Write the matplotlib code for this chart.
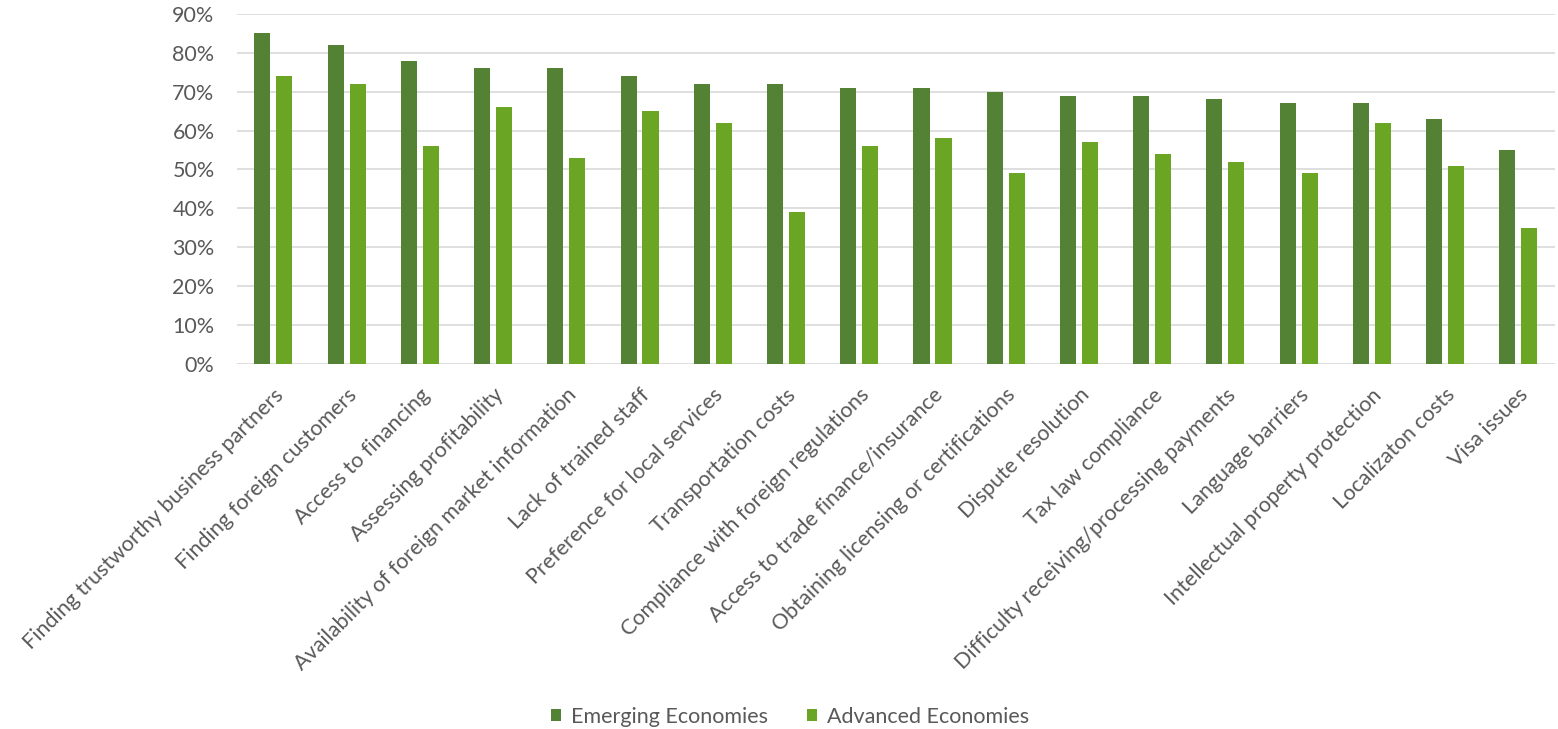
import matplotlib
matplotlib.use("Agg")
import matplotlib.pyplot as plt
import numpy as np
from matplotlib.ticker import FuncFormatter, MultipleLocator

categories = [
    "Finding trustworthy business partners",
    "Finding foreign customers",
    "Access to financing",
    "Assessing profitability",
    "Availability of foreign market information",
    "Lack of trained staff",
    "Preference for local services",
    "Transportation costs",
    "Compliance with foreign regulations",
    "Access to trade finance/insurance",
    "Obtaining licensing or certifications",
    "Dispute resolution",
    "Tax law compliance",
    "Difficulty receiving/processing payments",
    "Language barriers",
    "Intellectual property protection",
    "Localizaton costs",
    "Visa issues",
]
emerging = [85, 82, 78, 76, 76, 74, 72, 72, 71, 71, 70, 69, 69, 68, 67, 67, 63, 55]
advanced = [74, 72, 56, 66, 53, 65, 62, 39, 56, 58, 49, 57, 54, 52, 49, 62, 51, 35]
series_names = ["Emerging Economies", "Advanced Economies"]

plt.rcParams['font.family'] = ['Lato', 'DejaVu Sans']
text_color = "#595959"

fig = plt.figure(figsize=(15.58, 7.29), dpi=100)
ax = fig.add_axes([0.152, 0.5007, 0.846, 0.4803])

x = np.arange(len(categories))
w = 0.22
ax.bar(x - 0.15, emerging, width=w, color="#548235", label=series_names[0], zorder=3)
ax.bar(x + 0.15, advanced, width=w, color="#6AA624", label=series_names[1], zorder=3)

ax.set_xlim(-0.5, len(categories) - 0.5)
ax.set_ylim(0, 90)
ax.yaxis.set_major_locator(MultipleLocator(10))
ax.yaxis.set_major_formatter(FuncFormatter(lambda v, p: f"{int(v)}%"))
ax.grid(axis="y", color="#d9d9d9", linewidth=1.2, zorder=0)
for s in ax.spines.values():
    s.set_visible(False)
ax.tick_params(axis="both", length=0, colors=text_color)
ax.tick_params(axis="y", pad=16, labelsize=15.5)
ax.set_xticks(x)
ax.set_xticklabels(categories, rotation=45, ha="right", rotation_mode="anchor", fontsize=15.5, color=text_color)
ax.tick_params(axis="x", pad=15)

fig.legend(loc="center", bbox_to_anchor=(0.507, 0.0165), ncol=2, frameon=False,
           fontsize=15.5, handlelength=0.5, handleheight=0.5, columnspacing=1.8, handletextpad=0.45,
           labelcolor=text_color)

fig.savefig("out.png", dpi=100)
